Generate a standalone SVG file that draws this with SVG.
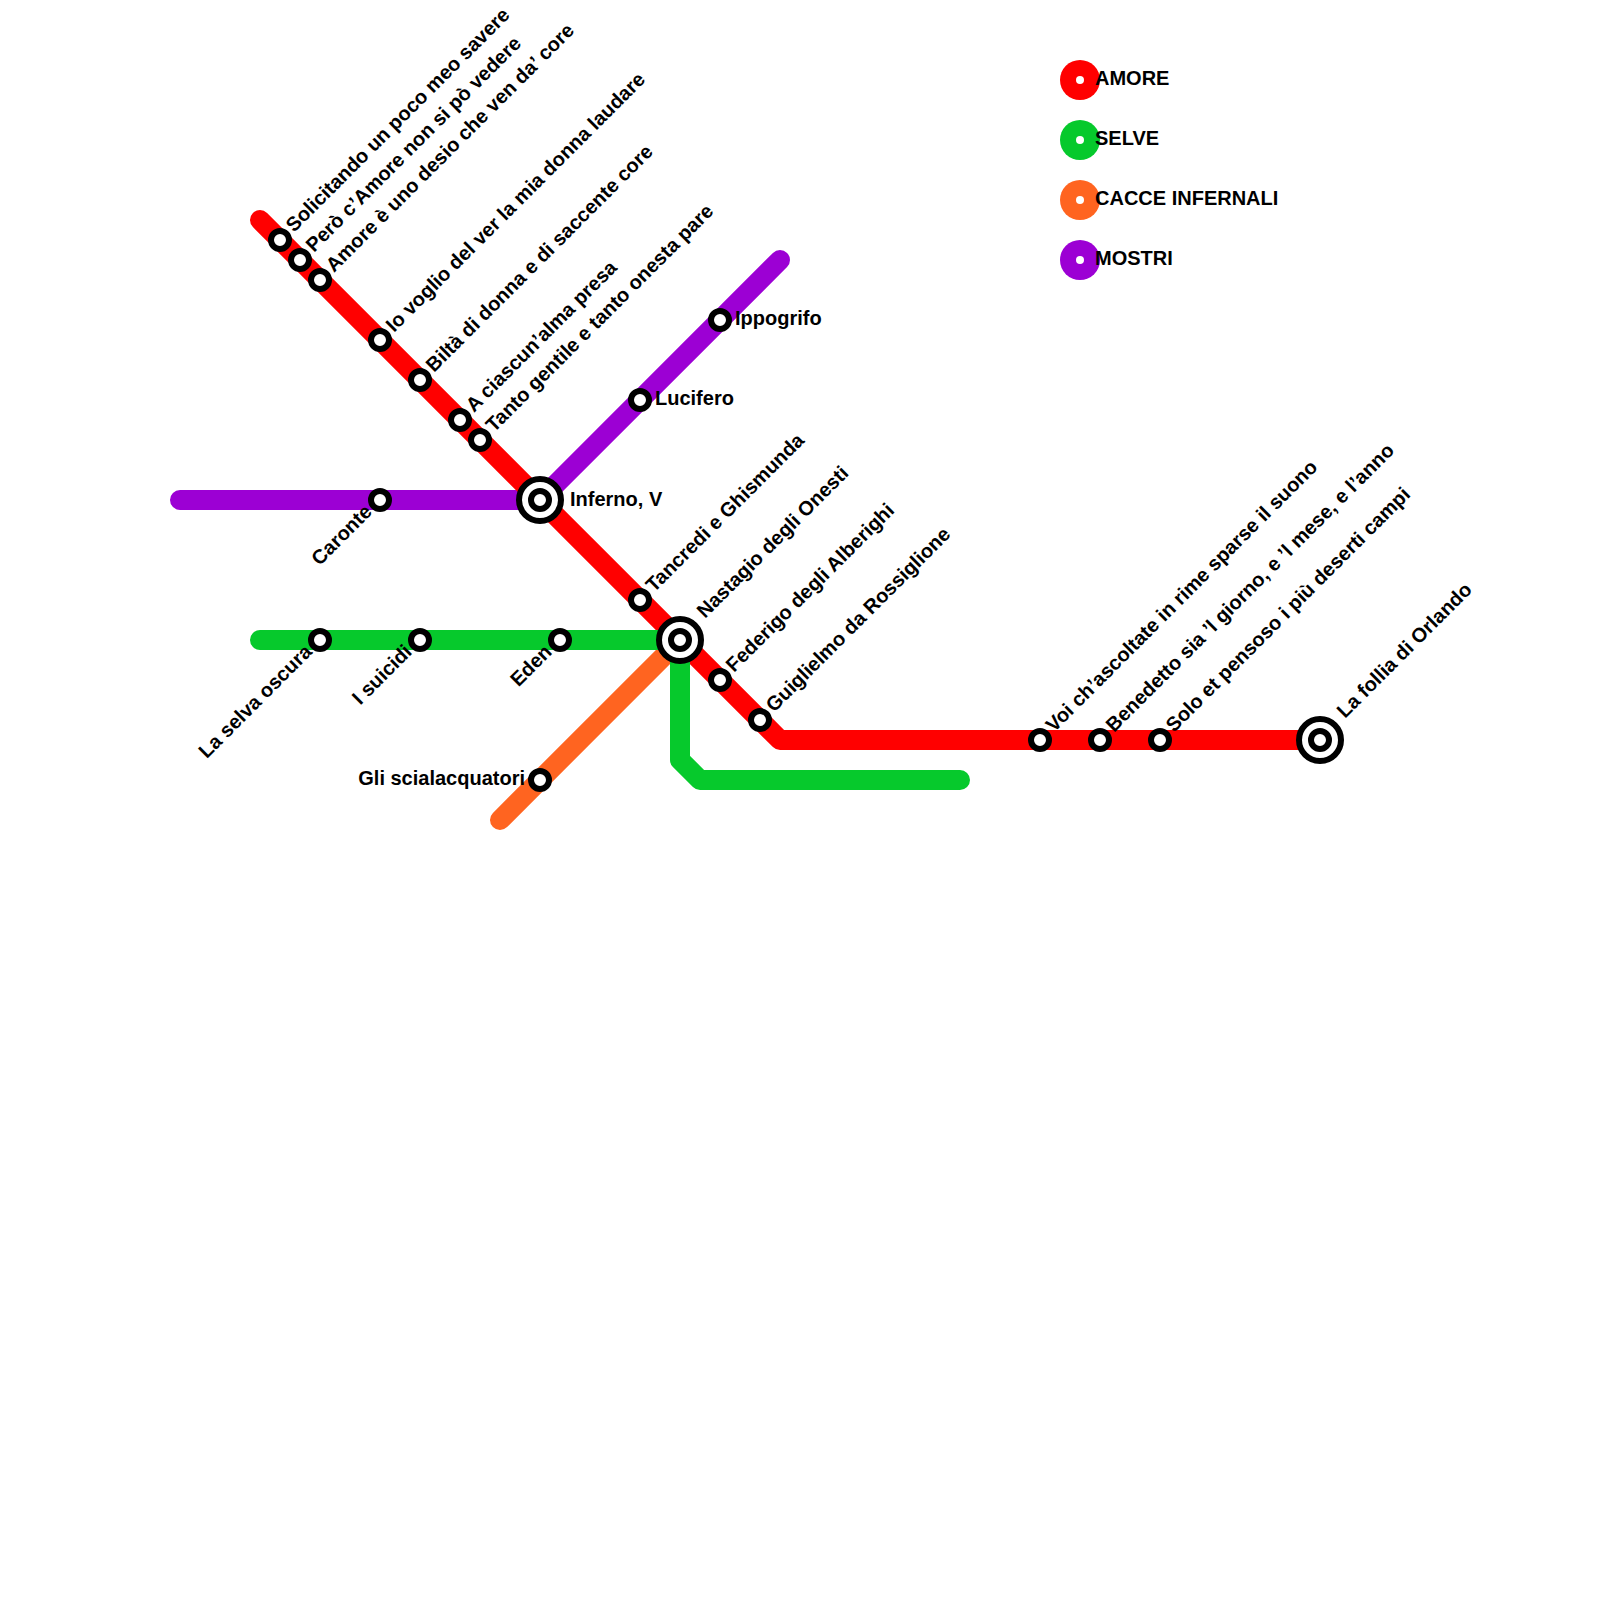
<svg xmlns="http://www.w3.org/2000/svg" width="1600" height="1600" viewBox="0 0 1600 1600">
<style>
.l{fill:none;stroke-width:20;stroke-linecap:round;stroke-linejoin:round}
.s{fill:#fff;stroke:#000;stroke-width:6}
text{font-family:"Liberation Sans",Arial,sans-serif;font-weight:700;font-size:20px;fill:#000}
.e{text-anchor:end}
</style>
<rect width="1600" height="1600" fill="#fff"/>
<g id="connectors">
<path class="l" stroke="#9c00d4" d="M180 500H540L780 260"/>
<path class="l" stroke="#ff0000" d="M260 220L780 740H1320"/>
<path class="l" stroke="#ff6420" d="M500 820L680 640"/>
<path class="l" stroke="#06c92c" d="M260 640H680V760L700 780H960"/>
</g>
<g id="n1"><circle class="s" cx="280" cy="240" r="9"/><text transform="translate(294 233) rotate(-45)">Solicitando un poco meo savere</text></g>
<g id="n2"><circle class="s" cx="300" cy="260" r="9"/><text transform="translate(314 253) rotate(-45)">Però c’Amore non si pò vedere</text></g>
<g id="n3"><circle class="s" cx="320" cy="280" r="9"/><text transform="translate(334 273) rotate(-45)">Amore è uno desio che ven da’ core</text></g>
<g id="n4"><circle class="s" cx="380" cy="340" r="9"/><text transform="translate(394 333) rotate(-45)">Io voglio del ver la mia donna laudare</text></g>
<g id="n5"><circle class="s" cx="420" cy="380" r="9"/><text transform="translate(434 373) rotate(-45)">Biltà di donna e di saccente core</text></g>
<g id="n6"><circle class="s" cx="460" cy="420" r="9"/><text transform="translate(474 413) rotate(-45)">A ciascun’alma presa</text></g>
<g id="n7"><circle class="s" cx="480" cy="440" r="9"/><text transform="translate(494 433) rotate(-45)">Tanto gentile e tanto onesta pare</text></g>
<g id="n8"><circle class="s" cx="540" cy="500" r="21"/><circle class="s" cx="540" cy="500" r="9"/><text x="570" y="506">Inferno, V</text></g>
<g id="n9"><circle class="s" cx="640" cy="600" r="9"/><text transform="translate(654 593) rotate(-45)">Tancredi e Ghismunda</text></g>
<g id="n10"><circle class="s" cx="680" cy="640" r="21"/><circle class="s" cx="680" cy="640" r="9"/><text transform="translate(705 619) rotate(-45)">Nastagio degli Onesti</text></g>
<g id="n11"><circle class="s" cx="720" cy="680" r="9"/><text transform="translate(734 673) rotate(-45)">Federigo degli Alberighi</text></g>
<g id="n12"><circle class="s" cx="760" cy="720" r="9"/><text transform="translate(774 713) rotate(-45)">Guiglielmo da Rossiglione</text></g>
<g id="n13"><circle class="s" cx="1040" cy="740" r="9"/><text transform="translate(1054 733) rotate(-45)">Voi ch’ascoltate in rime sparse il suono</text></g>
<g id="n14"><circle class="s" cx="1100" cy="740" r="9"/><text transform="translate(1114 733) rotate(-45)">Benedetto sia ’l giorno, e ’l mese, e l’anno</text></g>
<g id="n15"><circle class="s" cx="1160" cy="740" r="9"/><text transform="translate(1174 733) rotate(-45)">Solo et pensoso i più deserti campi</text></g>
<g id="n16"><circle class="s" cx="1320" cy="740" r="21"/><circle class="s" cx="1320" cy="740" r="9"/><text transform="translate(1345 719) rotate(-45)">La follia di Orlando</text></g>
<g id="n17"><circle class="s" cx="720" cy="320" r="9"/><text x="735" y="325">Ippogrifo</text></g>
<g id="n18"><circle class="s" cx="640" cy="400" r="9"/><text x="655" y="405">Lucifero</text></g>
<g id="n19"><circle class="s" cx="380" cy="500" r="9"/><text class="e" transform="translate(373 513) rotate(-45)">Caronte</text></g>
<g id="n20"><circle class="s" cx="320" cy="640" r="9"/><text class="e" transform="translate(313 653) rotate(-45)">La selva oscura</text></g>
<g id="n21"><circle class="s" cx="420" cy="640" r="9"/><text class="e" transform="translate(413 653) rotate(-45)">I suicidi</text></g>
<g id="n22"><circle class="s" cx="560" cy="640" r="9"/><text class="e" transform="translate(553 653) rotate(-45)">Eden</text></g>
<g id="n23"><circle class="s" cx="540" cy="780" r="9"/><text class="e" x="525" y="785">Gli scialacquatori</text></g>
<g id="legend">
<circle cx="1080" cy="80" r="20" fill="#ff0000"/><circle cx="1080" cy="80" r="4" fill="#fff"/><text x="1095" y="85">AMORE</text>
<circle cx="1080" cy="140" r="20" fill="#06c92c"/><circle cx="1080" cy="140" r="4" fill="#fff"/><text x="1095" y="145">SELVE</text>
<circle cx="1080" cy="200" r="20" fill="#ff6420"/><circle cx="1080" cy="200" r="4" fill="#fff"/><text x="1095" y="205">CACCE INFERNALI</text>
<circle cx="1080" cy="260" r="20" fill="#9c00d4"/><circle cx="1080" cy="260" r="4" fill="#fff"/><text x="1095" y="265">MOSTRI</text>
</g>
</svg>
